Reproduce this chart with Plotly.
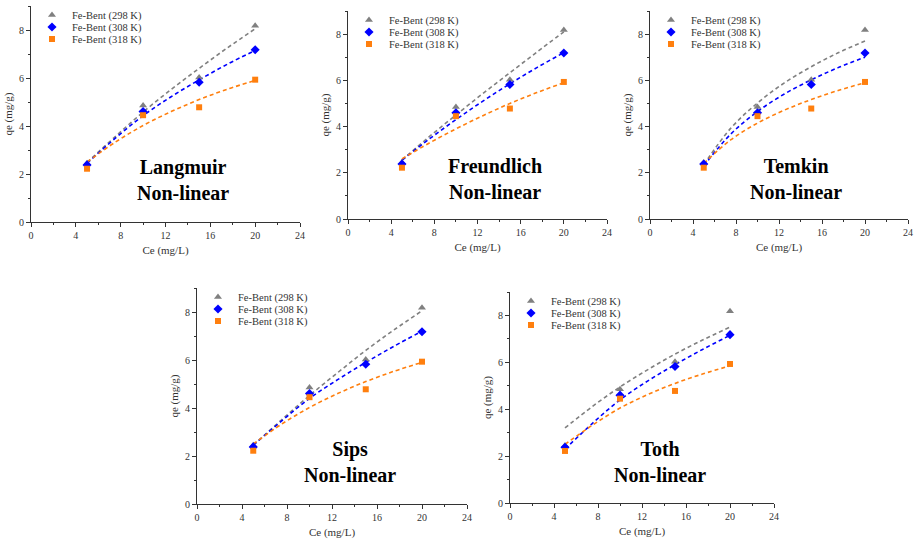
import plotly.graph_objects as go

# Experimental equilibrium data (Ce in mg/L, qe in mg/g)
ce = [5, 10, 15, 20]
qe_298 = [2.45, 4.85, 6.02, 8.18]
qe_308 = [2.38, 4.60, 5.82, 7.18]
qe_318 = [2.22, 4.45, 4.78, 5.93]

series_names = ["Fe-Bent (298 K)", "Fe-Bent (308 K)", "Fe-Bent (318 K)"]

# Non-linear model curves sampled over Ce
ce_fit = [5, 7.5, 10, 12.5, 15, 17.5, 20]
langmuir_298 = [2.48, 3.55, 4.58, 5.52, 6.40, 7.25, 8.05]
langmuir_308 = [2.45, 3.48, 4.43, 5.22, 5.92, 6.57, 7.15]
langmuir_318 = [2.50, 3.32, 4.02, 4.60, 5.10, 5.53, 5.90]

freundlich_298 = [2.55, 3.55, 4.50, 5.43, 6.33, 7.22, 8.10]
freundlich_308 = [2.55, 3.45, 4.30, 5.10, 5.85, 6.55, 7.20]
freundlich_318 = [2.60, 3.28, 3.90, 4.47, 5.00, 5.47, 5.90]

temkin_298 = [2.35, 3.92, 5.02, 5.89, 6.59, 7.19, 7.70]
temkin_308 = [2.30, 3.67, 4.65, 5.41, 6.02, 6.55, 7.00]
temkin_318 = [2.40, 3.42, 4.15, 4.71, 5.17, 5.56, 5.90]

sips_298 = [2.45, 3.50, 4.52, 5.47, 6.40, 7.25, 8.05]
sips_308 = [2.45, 3.45, 4.40, 5.18, 5.90, 6.57, 7.20]
sips_318 = [2.50, 3.32, 4.02, 4.60, 5.10, 5.53, 5.90]

toth_298 = [3.20, 4.12, 4.95, 5.68, 6.35, 6.95, 7.50]
toth_308 = [2.30, 3.40, 4.40, 5.20, 5.90, 6.55, 7.15]
toth_318 = [2.50, 3.32, 4.05, 4.62, 5.10, 5.50, 5.85]

model_names = ["Langmuir", "Freundlich", "Temkin", "Sips", "Toth"]
model_curves = [
    (langmuir_298, langmuir_308, langmuir_318),
    (freundlich_298, freundlich_308, freundlich_318),
    (temkin_298, temkin_308, temkin_318),
    (sips_298, sips_308, sips_318),
    (toth_298, toth_308, toth_318),
]

W, H = 916, 546
FONT = "Liberation Serif, serif"

# Panel boxes in pixels: (left, right, bottom, top)
panels_px = [
    (31, 300, 222, 6),
    (348, 607, 219, 11),
    (650, 908, 219, 11),
    (197, 467, 504, 288),
    (510, 774, 503, 292),
]

colors = ["#808080", "#0000FF", "#FF7F0E"]
symbols = ["triangle-up", "diamond", "square"]
sizes = [7, 7, 6]
obs = [qe_298, qe_308, qe_318]

fig = go.Figure()

layout = dict(
    width=W, height=H, margin=dict(l=0, r=0, t=0, b=0, autoexpand=False),
    paper_bgcolor="white", plot_bgcolor="white", showlegend=True,
    font=dict(family=FONT, color="#222", size=10),
)

annotations = []
for i, (name, curves) in enumerate(zip(model_names, model_curves)):
    l, r, b, t = panels_px[i]
    k = "" if i == 0 else str(i + 1)
    xa, ya = "x" + k, "y" + k
    for j in range(3):
        fig.add_trace(go.Scatter(
            x=ce_fit, y=curves[j], mode="lines", xaxis=xa, yaxis=ya,
            line=dict(color=colors[j], width=1.6, dash="4px,3px", shape="spline"),
            showlegend=False, hoverinfo="skip",
        ))
    for j in range(3):
        # one compact legend row per series
        n = i * 3 + j + 1
        leg = "legend" if n == 1 else "legend" + str(n)
        fig.add_trace(go.Scatter(
            x=ce, y=obs[j], mode="markers", xaxis=xa, yaxis=ya,
            name=series_names[j], legend=leg,
            marker=dict(color=colors[j], symbol=symbols[j], size=sizes[j], line=dict(width=0)),
        ))
        layout[leg] = dict(
            x=(l + 1) / W, y=1 - (t + 9 + 12 * j) / H, xanchor="left", yanchor="middle",
            bgcolor="rgba(0,0,0,0)", borderwidth=0, tracegroupgap=0,
            itemwidth=30, font=dict(family=FONT, size=10.5, color="#333"),
        )

    axis_common = dict(
        showline=True, linecolor="#333", linewidth=1.2, mirror=False,
        ticks="outside", ticklen=4, tickwidth=1, tickcolor="#333",
        showgrid=False, zeroline=False,
        tickfont=dict(family=FONT, size=10, color="#333"),
    )
    layout["xaxis" + k] = dict(
        axis_common, domain=[l / W, r / W], range=[0, 24], dtick=4, tick0=0,
        anchor="y" + k, automargin=False,
        minor=dict(dtick=2, ticks="outside", ticklen=2, tickcolor="#333"),
        title=dict(text="Ce (mg/L)", font=dict(family=FONT, size=11, color="#333"), standoff=6),
    )
    layout["yaxis" + k] = dict(
        axis_common, domain=[1 - b / H, 1 - t / H], range=[0, 9], dtick=2, tick0=0,
        anchor="x" + k, automargin=False,
        minor=dict(dtick=1, ticks="outside", ticklen=2, tickcolor="#333"),
        title=dict(text="qe (mg/g)", font=dict(family=FONT, size=11, color="#333"), standoff=4),
    )
    annotations.append(dict(
        x=13.6, y=1.75, xref="x" + k, yref="y" + k,
        text="<b>" + name + "<br>Non-linear</b>", showarrow=False,
        font=dict(family=FONT, size=20, color="black"), align="center",
    ))

layout["annotations"] = annotations
fig.update_layout(**layout)

fig.write_html("out.html")
